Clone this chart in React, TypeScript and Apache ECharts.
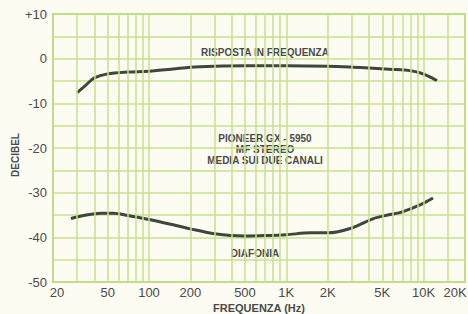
import React, { useEffect, useRef } from "react";
import * as echarts from "echarts";

const rispostaFreq = [30, 35, 40, 50, 70, 100, 150, 200, 300, 500, 1000, 2000, 3000, 4000, 6000, 8000, 9500, 11000, 12500];
const rispostaDb = [-7.6, -5.8, -4.3, -3.4, -3.0, -2.8, -2.3, -1.9, -1.7, -1.6, -1.6, -1.7, -1.9, -2.1, -2.4, -2.7, -3.2, -4.0, -4.9];

const diafoniaFreq = [27, 35, 45, 55, 70, 100, 150, 200, 300, 500, 700, 1000, 1500, 2000, 3000, 4300, 5500, 7000, 9500, 11700];
const diafoniaDb = [-35.8, -35.0, -34.6, -34.6, -35.1, -36.0, -37.2, -38.1, -39.2, -39.7, -39.6, -39.4, -39.0, -39.0, -37.9, -35.8, -35.0, -34.3, -32.7, -31.2];

const gridFreqs = [20, 30, 40, 50, 60, 70, 80, 90, 100, 200, 300, 400, 500, 600, 700, 800, 900, 1000, 2000, 3000, 4000, 5000, 6000, 7000, 8000, 9000, 10000, 15000, 20000];
const tickFreqs = [20, 50, 100, 200, 500, 1000, 2000, 5000, 10000, 20000];
const tickLabels = ["20", "50", "100", "200", "500", "1K", "2K", "5K", "10K", "20K"];

const GRID = "#c6e08c";
const INK = "#3f463b";
const TXT = "#4a4a4a";
const FONT = "Liberation Sans, Arial, sans-serif";

export default function App() {
  const ref = useRef<HTMLDivElement>(null);
  useEffect(() => {
    if (!ref.current) return;
    const chart = echarts.init(ref.current, undefined, { renderer: "svg" });
    const pair = (f: number[], d: number[]) => f.map((x, i) => [x, d[i]]);
    const markData = gridFreqs.map((f) => {
      const idx = tickFreqs.indexOf(f);
      const shift = f === 20 ? 4 : f === 20000 ? -10 : 0;
      return {
        xAxis: f,
        label: idx >= 0
          ? { show: true, formatter: tickLabels[idx], position: "start", distance: 4, offset: [shift, 0], color: TXT, fontSize: 13, fontFamily: FONT }
          : { show: false },
      };
    });
    chart.setOption({
      animation: false,
      backgroundColor: "#fcfcf3",
      grid: { left: 53, right: 3, top: 14, bottom: 32, show: true, borderColor: "#b2d578", borderWidth: 2, outerBoundsMode: "none" },
      xAxis: {
        type: "log",
        logBase: 10,
        min: 20,
        max: 20000,
        axisLine: { show: false },
        axisTick: { show: false },
        axisLabel: { show: false },
        splitLine: { show: false },
        minorSplitLine: { show: false },
        name: "FREQUENZA (Hz)",
        nameLocation: "middle",
        nameGap: 20,
        nameTextStyle: { color: TXT, fontSize: 11, fontWeight: "bold", fontFamily: FONT },
      },
      yAxis: {
        type: "value",
        min: -50,
        max: 10,
        interval: 5,
        axisLine: { show: false },
        axisTick: { show: false },
        axisLabel: {
          color: TXT,
          fontSize: 13,
          margin: 6,
          fontFamily: FONT,
          formatter: (v: number) => (v % 10 === 0 ? (v > 0 ? "+" + v : String(v)) : ""),
        },
        splitLine: { show: true, lineStyle: { color: GRID, width: 1.5 } },
      },
      graphic: [
        { type: "text", x: 15, y: 155, rotation: Math.PI / 2, style: { text: "DECIBEL", fill: TXT, font: "bold 10px " + FONT, align: "center", verticalAlign: "middle" } },
        { type: "text", x: 265, y: 52, style: { text: "RISPOSTA IN FREQUENZA", fill: TXT, font: "bold 10px " + FONT, align: "center", verticalAlign: "middle" } },
        { type: "text", x: 265, y: 138, style: { text: "PIONEER GX - 5950", fill: TXT, font: "bold 10px " + FONT, align: "center", verticalAlign: "middle" } },
        { type: "text", x: 265, y: 149, style: { text: "MF STEREO", fill: TXT, font: "bold 10px " + FONT, align: "center", verticalAlign: "middle" } },
        { type: "text", x: 265, y: 160, style: { text: "MEDIA SUI DUE CANALI", fill: TXT, font: "bold 10px " + FONT, align: "center", verticalAlign: "middle" } },
        { type: "text", x: 255, y: 253, style: { text: "DIAFONIA", fill: TXT, font: "bold 10px " + FONT, align: "center", verticalAlign: "middle" } },
      ],
      series: [
        {
          type: "line",
          data: [],
          z: 1,
          markLine: {
            silent: true,
            symbol: "none",
            animation: false,
            lineStyle: { color: GRID, width: 1.5, type: "solid" },
            data: markData,
          },
        },
        {
          name: "Risposta in frequenza",
          type: "line",
          z: 3,
          data: pair(rispostaFreq, rispostaDb),
          smooth: 0.3,
          showSymbol: false,
          lineStyle: { color: INK, width: 3 },
        },
        {
          name: "Diafonia",
          type: "line",
          z: 3,
          data: pair(diafoniaFreq, diafoniaDb),
          smooth: 0.3,
          showSymbol: false,
          lineStyle: { color: INK, width: 3 },
        },
      ],
    });
    return () => chart.dispose();
  }, []);
  return <div ref={ref} style={{ width: 468, height: 314, position: "fixed", left: 0, top: 0 }} />;
}
